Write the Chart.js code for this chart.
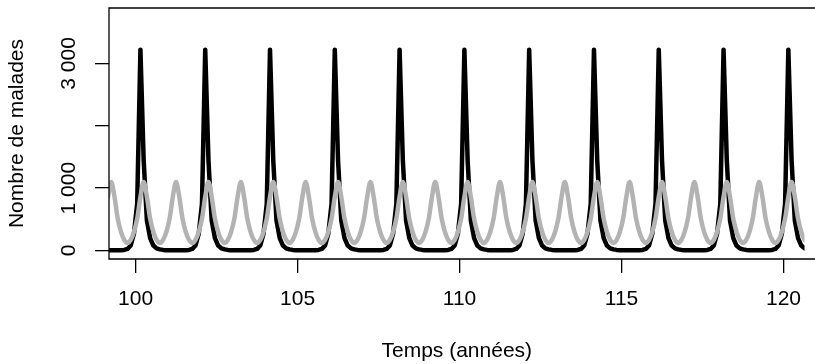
<!DOCTYPE html>
<html>
<head>
<meta charset="utf-8">
<script src="https://cdn.jsdelivr.net/npm/chart.js@4/dist/chart.umd.min.js"></script>
<style>
html,body{margin:0;padding:0;background:#fff;overflow:hidden;}
canvas{display:block;}
</style>
</head>
<body>
<canvas id="c" width="815" height="364"></canvas>
<script>
// Time (years), sampled every 0.1 year
const years = [
  99.15, 99.25, 99.35, 99.45, 99.55, 99.65, 99.75, 99.85, 99.95, 100.05,
  100.15,100.25,100.35,100.45,100.55,100.65,100.75,100.85,100.95,101.05,
  101.15,101.25,101.35,101.45,101.55,101.65,101.75,101.85,101.95,102.05,
  102.15,102.25,102.35,102.45,102.55,102.65,102.75,102.85,102.95,103.05,
  103.15,103.25,103.35,103.45,103.55,103.65,103.75,103.85,103.95,104.05,
  104.15,104.25,104.35,104.45,104.55,104.65,104.75,104.85,104.95,105.05,
  105.15,105.25,105.35,105.45,105.55,105.65,105.75,105.85,105.95,106.05,
  106.15,106.25,106.35,106.45,106.55,106.65,106.75,106.85,106.95,107.05,
  107.15,107.25,107.35,107.45,107.55,107.65,107.75,107.85,107.95,108.05,
  108.15,108.25,108.35,108.45,108.55,108.65,108.75,108.85,108.95,109.05,
  109.15,109.25,109.35,109.45,109.55,109.65,109.75,109.85,109.95,110.05,
  110.15,110.25,110.35,110.45,110.55,110.65,110.75,110.85,110.95,111.05,
  111.15,111.25,111.35,111.45,111.55,111.65,111.75,111.85,111.95,112.05,
  112.15,112.25,112.35,112.45,112.55,112.65,112.75,112.85,112.95,113.05,
  113.15,113.25,113.35,113.45,113.55,113.65,113.75,113.85,113.95,114.05,
  114.15,114.25,114.35,114.45,114.55,114.65,114.75,114.85,114.95,115.05,
  115.15,115.25,115.35,115.45,115.55,115.65,115.75,115.85,115.95,116.05,
  116.15,116.25,116.35,116.45,116.55,116.65,116.75,116.85,116.95,117.05,
  117.15,117.25,117.35,117.45,117.55,117.65,117.75,117.85,117.95,118.05,
  118.15,118.25,118.35,118.45,118.55,118.65,118.75,118.85,118.95,119.05,
  119.15,119.25,119.35,119.45,119.55,119.65,119.75,119.85,119.95,120.05,
  120.15,120.25,120.35,120.45,120.55,120.65,120.75
];

// Black series (number of sick, biennial spikes)
const blackSeries = [
  3,3,3,4,6,10,25,80,270,750,
  3220,1450,480,200,80,35,18,10,6,4,
  3,3,3,4,6,10,25,80,270,750,
  3220,1450,480,200,80,35,18,10,6,4,
  3,3,3,4,6,10,25,80,270,750,
  3220,1450,480,200,80,35,18,10,6,4,
  3,3,3,4,6,10,25,80,270,750,
  3220,1450,480,200,80,35,18,10,6,4,
  3,3,3,4,6,10,25,80,270,750,
  3220,1450,480,200,80,35,18,10,6,4,
  3,3,3,4,6,10,25,80,270,750,
  3220,1450,480,200,80,35,18,10,6,4,
  3,3,3,4,6,10,25,80,270,750,
  3220,1450,480,200,80,35,18,10,6,4,
  3,3,3,4,6,10,25,80,270,750,
  3220,1450,480,200,80,35,18,10,6,4,
  3,3,3,4,6,10,25,80,270,750,
  3220,1450,480,200,80,35,18,10,6,4,
  3,3,3,4,6,10,25,80,270,750,
  3220,1450,480,200,80,35,18,10,6,4,
  3,3,3,4,6,10,25,80,270,750,
  3220,1450,480,200,80,35,18
];

// Grey series (annual peaks)
const greySeries = [
  860,1100,860,510,300,170,120,170,300,510,
  860,1100,860,510,300,170,120,170,300,510,
  860,1100,860,510,300,170,120,170,300,510,
  860,1100,860,510,300,170,120,170,300,510,
  860,1100,860,510,300,170,120,170,300,510,
  860,1100,860,510,300,170,120,170,300,510,
  860,1100,860,510,300,170,120,170,300,510,
  860,1100,860,510,300,170,120,170,300,510,
  860,1100,860,510,300,170,120,170,300,510,
  860,1100,860,510,300,170,120,170,300,510,
  860,1100,860,510,300,170,120,170,300,510,
  860,1100,860,510,300,170,120,170,300,510,
  860,1100,860,510,300,170,120,170,300,510,
  860,1100,860,510,300,170,120,170,300,510,
  860,1100,860,510,300,170,120,170,300,510,
  860,1100,860,510,300,170,120,170,300,510,
  860,1100,860,510,300,170,120,170,300,510,
  860,1100,860,510,300,170,120,170,300,510,
  860,1100,860,510,300,170,120,170,300,510,
  860,1100,860,510,300,170,120,170,300,510,
  860,1100,860,510,300,170,120,170,300,510,
  860,1100,860,510,300,170,120
];

const xTickValues = [100, 105, 110, 115, 120];
const yTickValues = [0, 1000, 2000, 3000];
const yTickLabels = ["0", "1 000", "", "3 000"];
const xTitle = "Temps (années)";
const yTitle = "Nombre de malades";

const FONT = "'Liberation Sans', Arial, Helvetica, sans-serif";
const FSIZE = 21;

const boxPlugin = {
  id: 'rbox',
  beforeDraw(chart) {
    const ctx = chart.ctx;
    ctx.save();
    ctx.fillStyle = '#fff';
    ctx.fillRect(0, 0, chart.width, chart.height);
    ctx.restore();
  },
  afterDraw(chart) {
    const ctx = chart.ctx;
    const a = chart.chartArea;
    ctx.save();
    ctx.strokeStyle = '#000';
    ctx.lineWidth = 1.3;
    ctx.beginPath();
    ctx.moveTo(chart.width + 5, a.top);
    ctx.lineTo(a.left, a.top);
    ctx.lineTo(a.left, a.bottom);
    ctx.lineTo(chart.width + 5, a.bottom);
    ctx.stroke();
    // rotated y tick labels (R style)
    const ys = chart.scales.y;
    ctx.fillStyle = '#000';
    ctx.font = FSIZE + 'px ' + FONT;
    ctx.textAlign = 'center';
    ctx.textBaseline = 'alphabetic';
    yTickValues.forEach((v, i) => {
      const lbl = yTickLabels[i];
      if (!lbl) return;
      const py = ys.getPixelForValue(v);
      ctx.save();
      ctx.translate(75, py);
      ctx.rotate(-Math.PI / 2);
      ctx.fillText(lbl, 0, 0);
      ctx.restore();
    });
    ctx.restore();
  }
};

new Chart(document.getElementById('c'), {
  type: 'line',
  data: {
    datasets: [
      {
        label: 'gris',
        data: years.map((t, i) => ({x: t, y: greySeries[i]})),
        borderColor: '#b3b3b3',
        borderWidth: 4.5,
        pointRadius: 0,
        tension: 0.4,
        cubicInterpolationMode: 'monotone',
        borderCapStyle: 'round',
        borderJoinStyle: 'round',
        clip: 0,
        fill: false
      },
      {
        label: 'noir',
        data: years.map((t, i) => ({x: t, y: blackSeries[i]})),
        borderColor: '#000000',
        borderWidth: 4.5,
        pointRadius: 0,
        tension: 0,
        borderCapStyle: 'round',
        borderJoinStyle: 'round',
        clip: 0,
        fill: false
      }
    ]
  },
  options: {
    responsive: false,
    animation: false,
    devicePixelRatio: 1,
    layout: { padding: { top: 8, right: 0, bottom: 0, left: 0 } },
    plugins: { legend: { display: false }, tooltip: { enabled: false } },
    scales: {
      x: {
        type: 'linear',
        min: 99.18,
        max: 120.65,
        afterBuildTicks(scale) { scale.ticks = xTickValues.map(v => ({value: v})); },
        afterFit(scale) { scale.height = 105; },
        ticks: {
          color: '#000',
          font: { family: FONT, size: FSIZE },
          padding: 14,
          maxRotation: 0,
          autoSkip: false,
          callback: (v) => String(v)
        },
        grid: { drawOnChartArea: false, drawTicks: true, tickLength: 14, color: '#000', lineWidth: 1.3 },
        border: { display: false },
        title: { display: true, text: xTitle, color: '#000', font: { family: FONT, size: FSIZE }, padding: { top: 0, bottom: 0 } }
      },
      y: {
        type: 'linear',
        min: -136,
        max: 3888,
        afterBuildTicks(scale) { scale.ticks = yTickValues.map(v => ({value: v})); },
        afterFit(scale) { scale.width = 109; },
        ticks: { display: false },
        grid: { drawOnChartArea: false, drawTicks: true, tickLength: 14, color: '#000', lineWidth: 1.3 },
        border: { display: false },
        title: { display: true, text: yTitle, color: '#000', font: { family: FONT, size: FSIZE }, padding: { top: 5, bottom: 0 } }
      }
    }
  },
  plugins: [boxPlugin]
});
</script>
</body>
</html>
